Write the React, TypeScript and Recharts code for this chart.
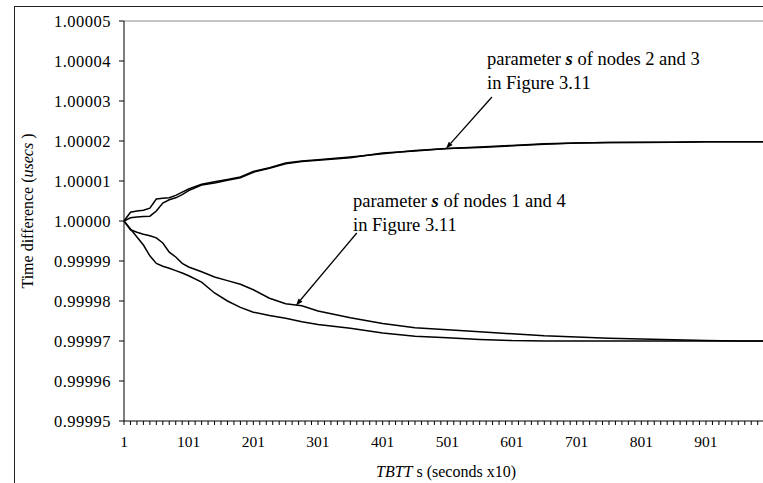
import { LineChart, Line, XAxis, YAxis, ReferenceLine } from 'recharts'

// TBTT index (x10 seconds)
const tbtt = [1, 11, 21, 31, 41, 51, 61, 71, 81, 91, 101, 121, 141, 161, 181, 201, 226, 251, 276, 301, 351, 401, 451, 501, 551, 601, 651, 701, 751, 801, 851, 901, 951, 1000]

const node2 = [1.0, 1.0000022, 1.0000025, 1.0000027, 1.0000032, 1.0000055, 1.0000057, 1.0000058, 1.0000064, 1.0000072, 1.000008, 1.0000092, 1.0000098, 1.0000104, 1.000011, 1.0000124, 1.0000133, 1.0000145, 1.000015, 1.0000153, 1.000016, 1.0000168, 1.0000176, 1.0000181, 1.0000184, 1.0000188, 1.0000192, 1.0000195, 1.0000196, 1.0000197, 1.0000197, 1.0000198, 1.0000198, 1.0000198]
const node3 = [1.0, 1.0000008, 1.000001, 1.0000011, 1.0000012, 1.0000025, 1.0000045, 1.0000053, 1.0000058, 1.0000066, 1.0000076, 1.000009, 1.0000095, 1.0000102, 1.0000108, 1.0000122, 1.0000132, 1.0000143, 1.0000149, 1.0000152, 1.0000158, 1.000017, 1.0000175, 1.0000181, 1.0000185, 1.0000189, 1.0000193, 1.0000195, 1.0000196, 1.0000196, 1.0000197, 1.0000198, 1.0000198, 1.0000198]
const node1 = [1.0, 0.9999978, 0.9999972, 0.9999967, 0.9999963, 0.9999958, 0.9999945, 0.9999922, 0.999991, 0.9999894, 0.9999885, 0.9999873, 0.999986, 0.9999851, 0.9999842, 0.9999828, 0.9999807, 0.9999793, 0.9999788, 0.9999775, 0.9999758, 0.9999744, 0.9999733, 0.9999728, 0.9999723, 0.9999718, 0.9999713, 0.999971, 0.9999707, 0.9999705, 0.9999703, 0.9999701, 0.99997, 0.99997]
const node4 = [1.0, 0.999998, 0.999996, 0.999994, 0.9999913, 0.9999894, 0.9999887, 0.9999882, 0.9999876, 0.999987, 0.9999863, 0.9999847, 0.999982, 0.99998, 0.9999784, 0.9999772, 0.9999764, 0.9999757, 0.9999748, 0.9999741, 0.9999732, 0.999972, 0.9999712, 0.9999708, 0.9999704, 0.9999701, 0.99997, 0.99997, 0.99997, 0.99997, 0.99997, 0.99997, 0.99997, 0.99997]

const yTicks = [0.99995, 0.99996, 0.99997, 0.99998, 0.99999, 1.0, 1.00001, 1.00002, 1.00003, 1.00004, 1.00005]
const xLabels = [1, 101, 201, 301, 401, 501, 601, 701, 801, 901]
// tick mark every 10 TBTTs, labels only every 100
const xMarks = Array.from({ length: 100 }, (_, k) => 1 + k * 10)

const data = tbtt.map((t, k) => ({ t, node1: node1[k], node2: node2[k], node3: node3[k], node4: node4[k] }))

const serif = '"Liberation Serif", "DejaVu Serif", serif'

function XTick({ x, y, payload }: any) {
  if (!xLabels.includes(payload.value)) return <g />
  return (
    <text x={x} y={y} dy="0.71em" textAnchor="middle" fontFamily={serif} fontSize={15.5} fill="#000">
      {payload.value}
    </text>
  )
}

function Arrow({ x1, y1, x2, y2 }: any) {
  const a = Math.atan2(y2 - y1, x2 - x1)
  const len = 7
  const w = 2.5
  const bx = x2 - len * Math.cos(a)
  const by = y2 - len * Math.sin(a)
  const px = -Math.sin(a) * w
  const py = Math.cos(a) * w
  return (
    <g>
      <line x1={x1} y1={y1} x2={bx} y2={by} stroke="#000" strokeWidth={1.3} />
      <polygon points={`${x2},${y2} ${bx + px},${by + py} ${bx - px},${by - py}`} fill="#000" />
    </g>
  )
}

export default function App() {
  return (
    <div style={{ position: 'fixed', left: 0, top: 0, width: 763, height: 483, overflow: 'hidden', background: '#fff' }}>
      <div style={{ position: 'absolute', left: 14, top: 6, width: 800, height: 500, border: '1px solid #222' }} />
      <LineChart
        width={800}
        height={483}
        data={data}
        margin={{ top: 21, right: 30, bottom: 0, left: 0 }}
        style={{ position: 'absolute', left: 0, top: 0 }}
      >
        <XAxis
          dataKey="t"
          type="number"
          domain={[1, 1000]}
          ticks={xMarks}
          interval={0}
          height={62}
          tickSize={4}
          tickMargin={11}
          tick={<XTick />}
          axisLine={{ stroke: '#000' }}
          tickLine={{ stroke: '#000' }}
        />
        <YAxis
          type="number"
          domain={[0.99995, 1.00005]}
          ticks={yTicks}
          interval={0}
          allowDataOverflow
          width={124}
          tickSize={5}
          tickMargin={8}
          tickFormatter={(v: number) => v.toFixed(5)}
          tick={{ fill: '#000', fontSize: 16.5, fontFamily: serif, letterSpacing: 0.5 }}
          axisLine={{ stroke: '#000' }}
          tickLine={{ stroke: '#000' }}
        />
        <ReferenceLine y={1.00005} stroke="#8a8a8a" />
        <Line type="linear" dataKey="node2" stroke="#000" strokeWidth={1.5} dot={false} isAnimationActive={false} />
        <Line type="linear" dataKey="node3" stroke="#000" strokeWidth={1.5} dot={false} isAnimationActive={false} />
        <Line type="linear" dataKey="node1" stroke="#000" strokeWidth={1.5} dot={false} isAnimationActive={false} />
        <Line type="linear" dataKey="node4" stroke="#000" strokeWidth={1.5} dot={false} isAnimationActive={false} />
        <ReferenceLine segment={[{ x: 570, y: 1.000031 }, { x: 499, y: 1.0000181 }]} shape={(p: any) => <Arrow {...p} />} />
        <ReferenceLine segment={[{ x: 361, y: 0.999997 }, { x: 267, y: 0.9999789 }]} shape={(p: any) => <Arrow {...p} />} />
      </LineChart>
      <svg width={763} height={483} style={{ position: 'absolute', left: 0, top: 0, pointerEvents: 'none' }} fontFamily={serif} fill="#000">
        <text x={487} y={65} fontSize={18.5}>
          parameter <tspan fontStyle="italic" fontWeight="bold">s</tspan>  of nodes 2 and 3
        </text>
        <text x={487} y={89} fontSize={18.5}>in Figure 3.11</text>
        <text x={353} y={207} fontSize={18.5}>
          parameter <tspan fontStyle="italic" fontWeight="bold">s</tspan>  of nodes 1 and 4
        </text>
        <text x={353} y={231} fontSize={18.5}>in Figure 3.11</text>
        <text transform="translate(33,211) rotate(-90)" textAnchor="middle" fontSize={16}>
          Time difference (<tspan fontStyle="italic">usecs</tspan> )
        </text>
        <text x={446} y={477} textAnchor="middle" fontSize={16}>
          <tspan fontStyle="italic">TBTT</tspan> s (seconds x10)
        </text>
      </svg>
    </div>
  )
}
